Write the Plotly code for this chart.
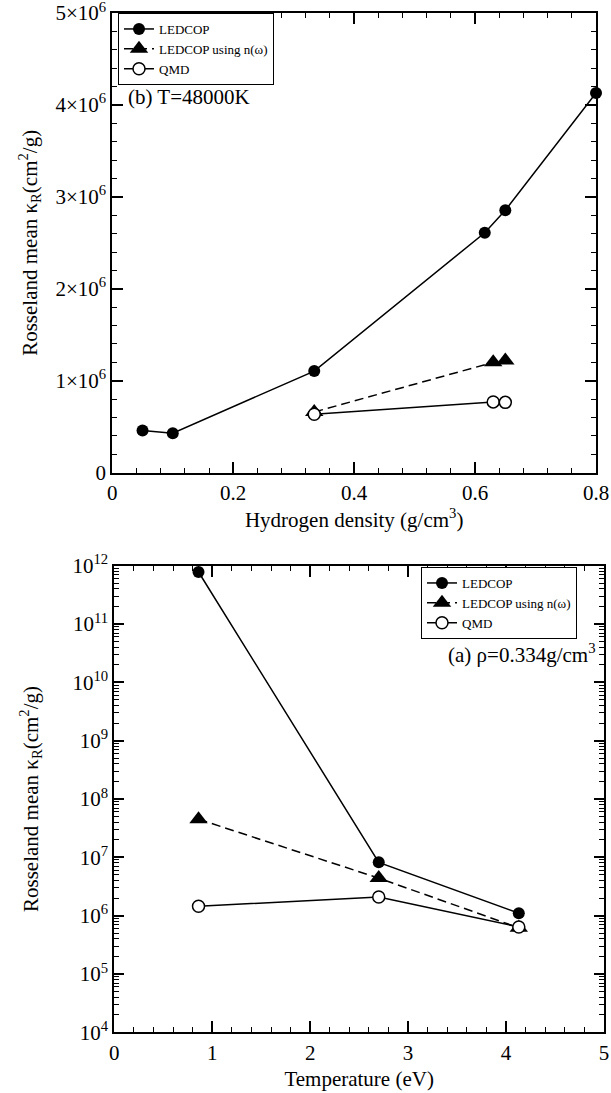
import plotly.graph_objects as go

# ---- Panel (b): T = 48000 K, opacity vs density ----
rho_ledcop = [0.05, 0.1, 0.334, 0.616, 0.65, 0.8]
kap_ledcop_b = [0.46e6, 0.43e6, 1.105e6, 2.61e6, 2.855e6, 4.13e6]
rho_nw = [0.334, 0.63, 0.65]
kap_nw_b = [0.66e6, 1.2e6, 1.22e6]
rho_qmd = [0.334, 0.63, 0.65]
kap_qmd_b = [0.635e6, 0.77e6, 0.765e6]

# ---- Panel (a): rho = 0.334 g/cm3, opacity vs temperature ----
temp = [0.86, 2.7, 4.13]
kap_ledcop_a = [7.8e11, 8.2e6, 1.1e6]
kap_nw_a = [4.5e7, 4.4e6, 6.2e5]
kap_qmd_a = [1.45e6, 2.09e6, 6.4e5]

series_names = ["LEDCOP", "LEDCOP using n(ω)", "QMD"]

top_yticks = [0, 1e6, 2e6, 3e6, 4e6, 5e6]
top_yticktext = ["0", "1×10<sup>6</sup>", "2×10<sup>6</sup>", "3×10<sup>6</sup>",
                 "4×10<sup>6</sup>", "5×10<sup>6</sup>"]
top_xticks = [0, 0.2, 0.4, 0.6, 0.8]
top_xticktext = ["0", "0.2", "0.4", "0.6", "0.8"]
bot_yticks = [1e4, 1e5, 1e6, 1e7, 1e8, 1e9, 1e10, 1e11, 1e12]
bot_yticktext = ["10<sup>%d</sup>" % e for e in range(4, 13)]
bot_xticks = [0, 1, 2, 3, 4, 5]

FONT = "Liberation Serif, Times New Roman, serif"
W, H = 611, 1093

fig = go.Figure()

filled = dict(symbol="circle", size=12, color="black")
tri = dict(symbol="triangle-up", size=16, color="black")
opn = dict(symbol="circle", size=12, color="white", line=dict(color="black", width=1.5))
DASH = "9px,5px"

# top panel traces
fig.add_trace(go.Scatter(x=rho_ledcop, y=kap_ledcop_b, mode="lines+markers", name=series_names[0],
                         line=dict(color="black", width=1.5), marker=filled, cliponaxis=False,
                         xaxis="x", yaxis="y", legend="legend"))
fig.add_trace(go.Scatter(x=rho_nw, y=kap_nw_b, mode="lines+markers", name=series_names[1],
                         line=dict(color="black", width=1.5, dash=DASH), marker=tri, cliponaxis=False,
                         xaxis="x", yaxis="y", legend="legend"))
fig.add_trace(go.Scatter(x=rho_qmd, y=kap_qmd_b, mode="lines+markers", name=series_names[2],
                         line=dict(color="black", width=1.5), marker=opn, cliponaxis=False,
                         xaxis="x", yaxis="y", legend="legend"))
# bottom panel traces
fig.add_trace(go.Scatter(x=temp, y=kap_ledcop_a, mode="lines+markers", name=series_names[0],
                         line=dict(color="black", width=1.5), marker=filled, cliponaxis=False,
                         xaxis="x2", yaxis="y2", legend="legend2"))
fig.add_trace(go.Scatter(x=temp, y=kap_nw_a, mode="lines+markers", name=series_names[1],
                         line=dict(color="black", width=1.5, dash=DASH), marker=tri, cliponaxis=False,
                         xaxis="x2", yaxis="y2", legend="legend2"))
fig.add_trace(go.Scatter(x=temp, y=kap_qmd_a, mode="lines+markers", name=series_names[2],
                         line=dict(color="black", width=1.5), marker=opn, cliponaxis=False,
                         xaxis="x2", yaxis="y2", legend="legend2"))

axis_common = dict(showline=True, linecolor="black", linewidth=2, mirror="ticks",
                   ticks="inside", ticklen=11, tickwidth=1.5, tickcolor="black",
                   showgrid=False, zeroline=False, automargin=False,
                   ticklabeloverflow="allow",
                   tickfont=dict(family=FONT, size=21, color="black"),
                   title_font=dict(family=FONT, size=21, color="black"))
minor_common = dict(ticks="inside", ticklen=5, tickcolor="black", tickwidth=1.2, showgrid=False)

def px_x(p):
    return p / W

def px_y(p):
    return (H - p) / H

fig.update_layout(
    width=W, height=H,
    margin=dict(l=0, r=0, t=0, b=0),
    paper_bgcolor="white", plot_bgcolor="white",
    font=dict(family=FONT, color="black"),
    xaxis=dict(axis_common, domain=[px_x(112.3), px_x(596)], anchor="y",
               range=[0, 0.8], tickvals=top_xticks, ticktext=top_xticktext,
               minor=dict(minor_common, dtick=0.04),
               title=dict(text="Hydrogen density (g/cm<sup>3</sup>)", standoff=8)),
    yaxis=dict(axis_common, domain=[px_y(472.7), px_y(13)], anchor="x",
               range=[0, 5e6], tickvals=top_yticks, ticktext=top_yticktext,
               minor=dict(minor_common, dtick=2e5),
               title=dict(text="Rosseland mean κ<sub>R</sub>(cm<sup>2</sup>/g)", standoff=12)),
    xaxis2=dict(axis_common, domain=[px_x(114.3), px_x(604)], anchor="y2",
                range=[0, 5], tickvals=bot_xticks,
                minor=dict(minor_common, dtick=0.2),
                title=dict(text="Temperature (eV)", standoff=8)),
    yaxis2=dict(axis_common, domain=[px_y(1032.3), px_y(565.7)], anchor="x2",
                type="log", range=[4, 12], tickvals=bot_yticks, ticktext=bot_yticktext,
                ticklen=10,
                minor=dict(minor_common, dtick="D1", tickwidth=1),
                title=dict(text="Rosseland mean κ<sub>R</sub>(cm<sup>2</sup>/g)", standoff=28)),
    legend=dict(x=px_x(118), y=px_y(13), xanchor="left", yanchor="top",
                bgcolor="white", bordercolor="black", borderwidth=1,
                font=dict(family=FONT, size=13, color="black"), tracegroupgap=0,
                itemwidth=30),
    legend2=dict(x=px_x(421), y=px_y(567), xanchor="left", yanchor="top",
                 bgcolor="white", bordercolor="black", borderwidth=1,
                 font=dict(family=FONT, size=13, color="black"), tracegroupgap=0,
                 itemwidth=30),
    annotations=[
        dict(text="(b) T=48000K", x=px_x(126), y=px_y(97), xref="paper", yref="paper",
             xanchor="left", yanchor="middle", showarrow=False,
             font=dict(family=FONT, size=21, color="black")),
        dict(text="(a) ρ=0.334g/cm<sup>3</sup>", x=px_x(597), y=px_y(653), xref="paper", yref="paper",
             xanchor="right", yanchor="middle", showarrow=False,
             font=dict(family=FONT, size=21, color="black")),
    ],
)

fig.write_html("out.html", config={"displayModeBar": False},
               post_script="document.body.style.margin='0px';document.body.style.overflow='hidden';")
